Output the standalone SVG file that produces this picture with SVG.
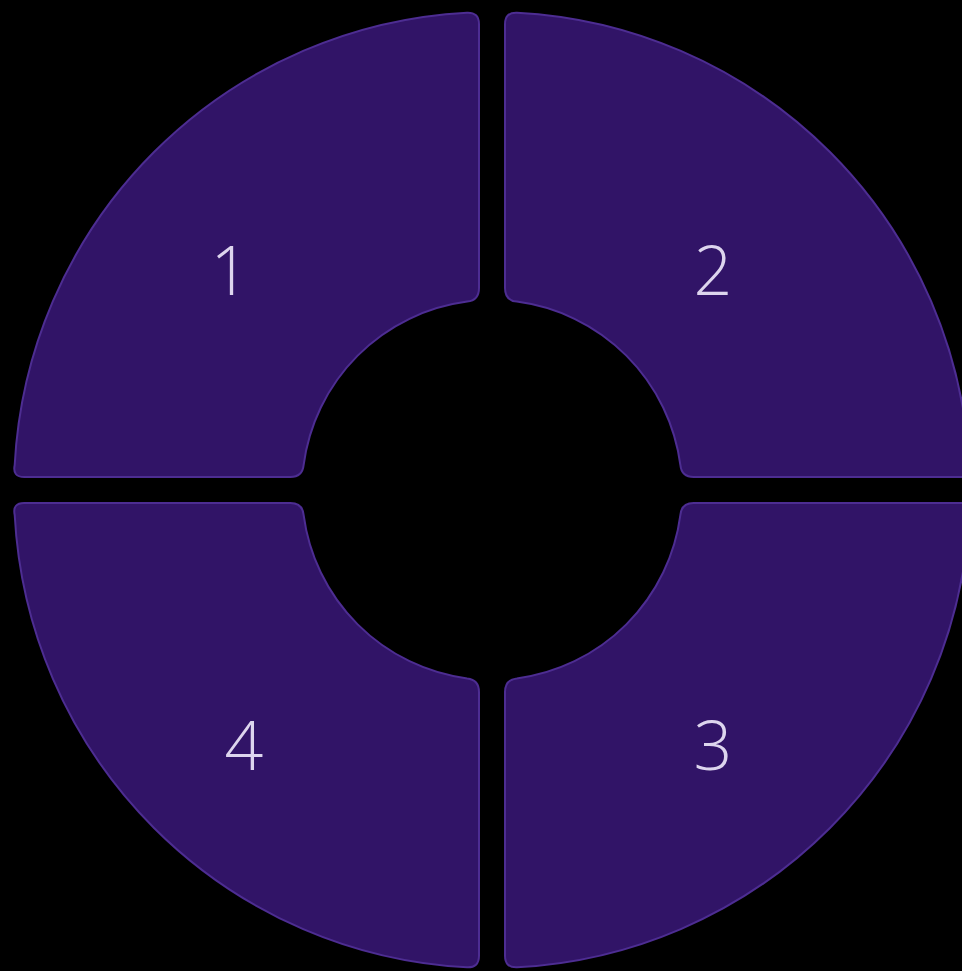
<svg xmlns="http://www.w3.org/2000/svg" xmlns:xlink="http://www.w3.org/1999/xlink" width="962" height="971" viewBox="0 0 962 971">
<style>
.seg{fill:#311467;stroke:#4d2d92;stroke-width:2}
.lbl{font-family:"Open Sans",Lato,"Noto Sans","Liberation Sans",sans-serif;font-weight:300;font-size:68px;fill:#ddd5ee;text-anchor:middle}
</style>
<defs>
<path id="q" d="M479,288 Q479,300.4 467.2,301.6 A190,190 0 0 0 303.6,465.2 Q302.4,477 290.4,477 L24.2,477 Q12.2,477 14.7,465 A478,478 0 0 1 467,12.7 Q479,12.2 479,24.2 Z"/>
</defs>
<rect width="962" height="971" fill="#000"/>
<g id="node1"><use xlink:href="#q" class="seg"/><text class="lbl" x="230" y="295">1</text></g>
<g id="node2"><use xlink:href="#q" class="seg" transform="matrix(-1 0 0 1 984 0)"/><text class="lbl" x="713" y="295">2</text></g>
<g id="node3"><use xlink:href="#q" class="seg" transform="matrix(-1 0 0 -1 984 980)"/><text class="lbl" x="713" y="770">3</text></g>
<g id="node4"><use xlink:href="#q" class="seg" transform="matrix(1 0 0 -1 0 980)"/><text class="lbl" x="244" y="770">4</text></g>
<g id="connectors"></g>
</svg>
